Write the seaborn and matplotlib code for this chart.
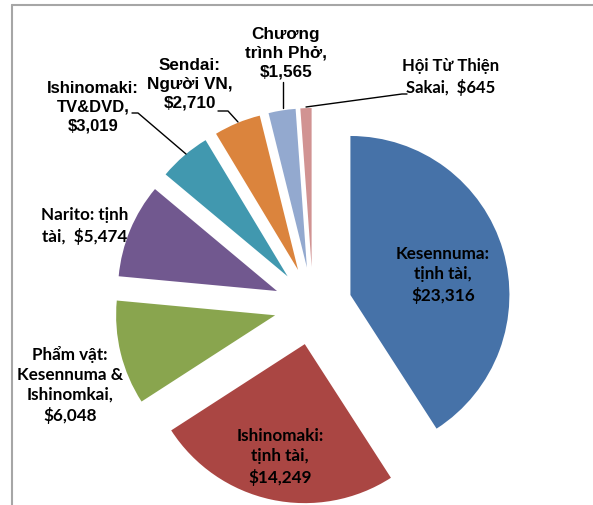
import matplotlib.pyplot as plt
import seaborn as sns

# Donations by program (USD)
programs = ["Kesennuma: tịnh tài", "Ishinomaki: tịnh tài", "Phẩm vật: Kesennuma & Ishinomkai",
            "Narito: tịnh tài", "Ishinomaki: TV&DVD", "Sendai: Người VN",
            "Chương trình Phở", "Hội Từ Thiện Sakai"]
amounts = [23316, 14249, 6048, 5474, 3019, 2710, 1565, 645]
label_texts = ["Kesennuma:\ntịnh tài,\n$23,316",
               "Ishinomaki:\ntịnh tài,\n$14,249",
               "Phẩm vật:\nKesennuma &\nIshinomkai,\n$6,048",
               "Narito: tịnh\ntài,  $5,474",
               "Ishinomaki:\nTV&DVD,\n$3,019",
               "Sendai:\nNgười VN,\n$2,710",
               "Chương\ntrình Phở,\n$1,565",
               "Hội Từ Thiện\nSakai,  $645"]
colors = ["#4672a8", "#aa4643", "#89a54e", "#71588f", "#4198af", "#db843d", "#93a9cf", "#d19392"]

sns.set_theme(style="white")

fig = plt.figure(figsize=(5.93, 5.05), dpi=100)
ax = fig.add_axes([0, 0, 1, 1])

# pixel-like coordinates, y pointing down
ax.pie(amounts, colors=colors, startangle=-90, counterclock=True,
       radius=159, center=(313, 306), explode=[39] * len(amounts),
       wedgeprops=dict(linewidth=0))
ax.set_xlim(0, 593)
ax.set_ylim(505, 0)
ax.set_aspect("equal")
ax.axis("off")

# chart frame (left and top edges visible)
ax.plot([12, 12], [505, 4.5], color="#a6a6a6", lw=1.5, clip_on=False)
ax.plot([12, 593], [4.5, 4.5], color="#a6a6a6", lw=1.5, clip_on=False)

label_pos = [(443, 275), (280, 457), (70, 385), (85, 226),
             (93, 107), (190, 84), (286, 53), (451, 77)]
calibri_like = ["Lato", "DejaVu Sans"]
arial_like = ["Liberation Sans", "DejaVu Sans"]
fams = [calibri_like, calibri_like, calibri_like, calibri_like,
        arial_like, arial_like, arial_like, calibri_like]
sizes = [12.3, 12.3, 12.3, 12.3, 12, 12.3, 12.3, 12]
for txt, (x, y), fam, fs in zip(label_texts, label_pos, fams, sizes):
    ax.text(x, y, txt, ha="center", va="center", fontsize=fs,
            fontweight="bold", family=fam, linespacing=1.3, color="black")

# leader lines
ax.plot([132, 138, 186], [113, 113, 154], color="black", lw=1)
ax.plot([218, 228, 238], [111, 111, 122], color="black", lw=1)
ax.plot([283, 283], [82, 108], color="black", lw=1)
ax.plot([407, 402, 306], [94, 94, 107], color="black", lw=1)

fig.savefig("out.png", dpi=100)
